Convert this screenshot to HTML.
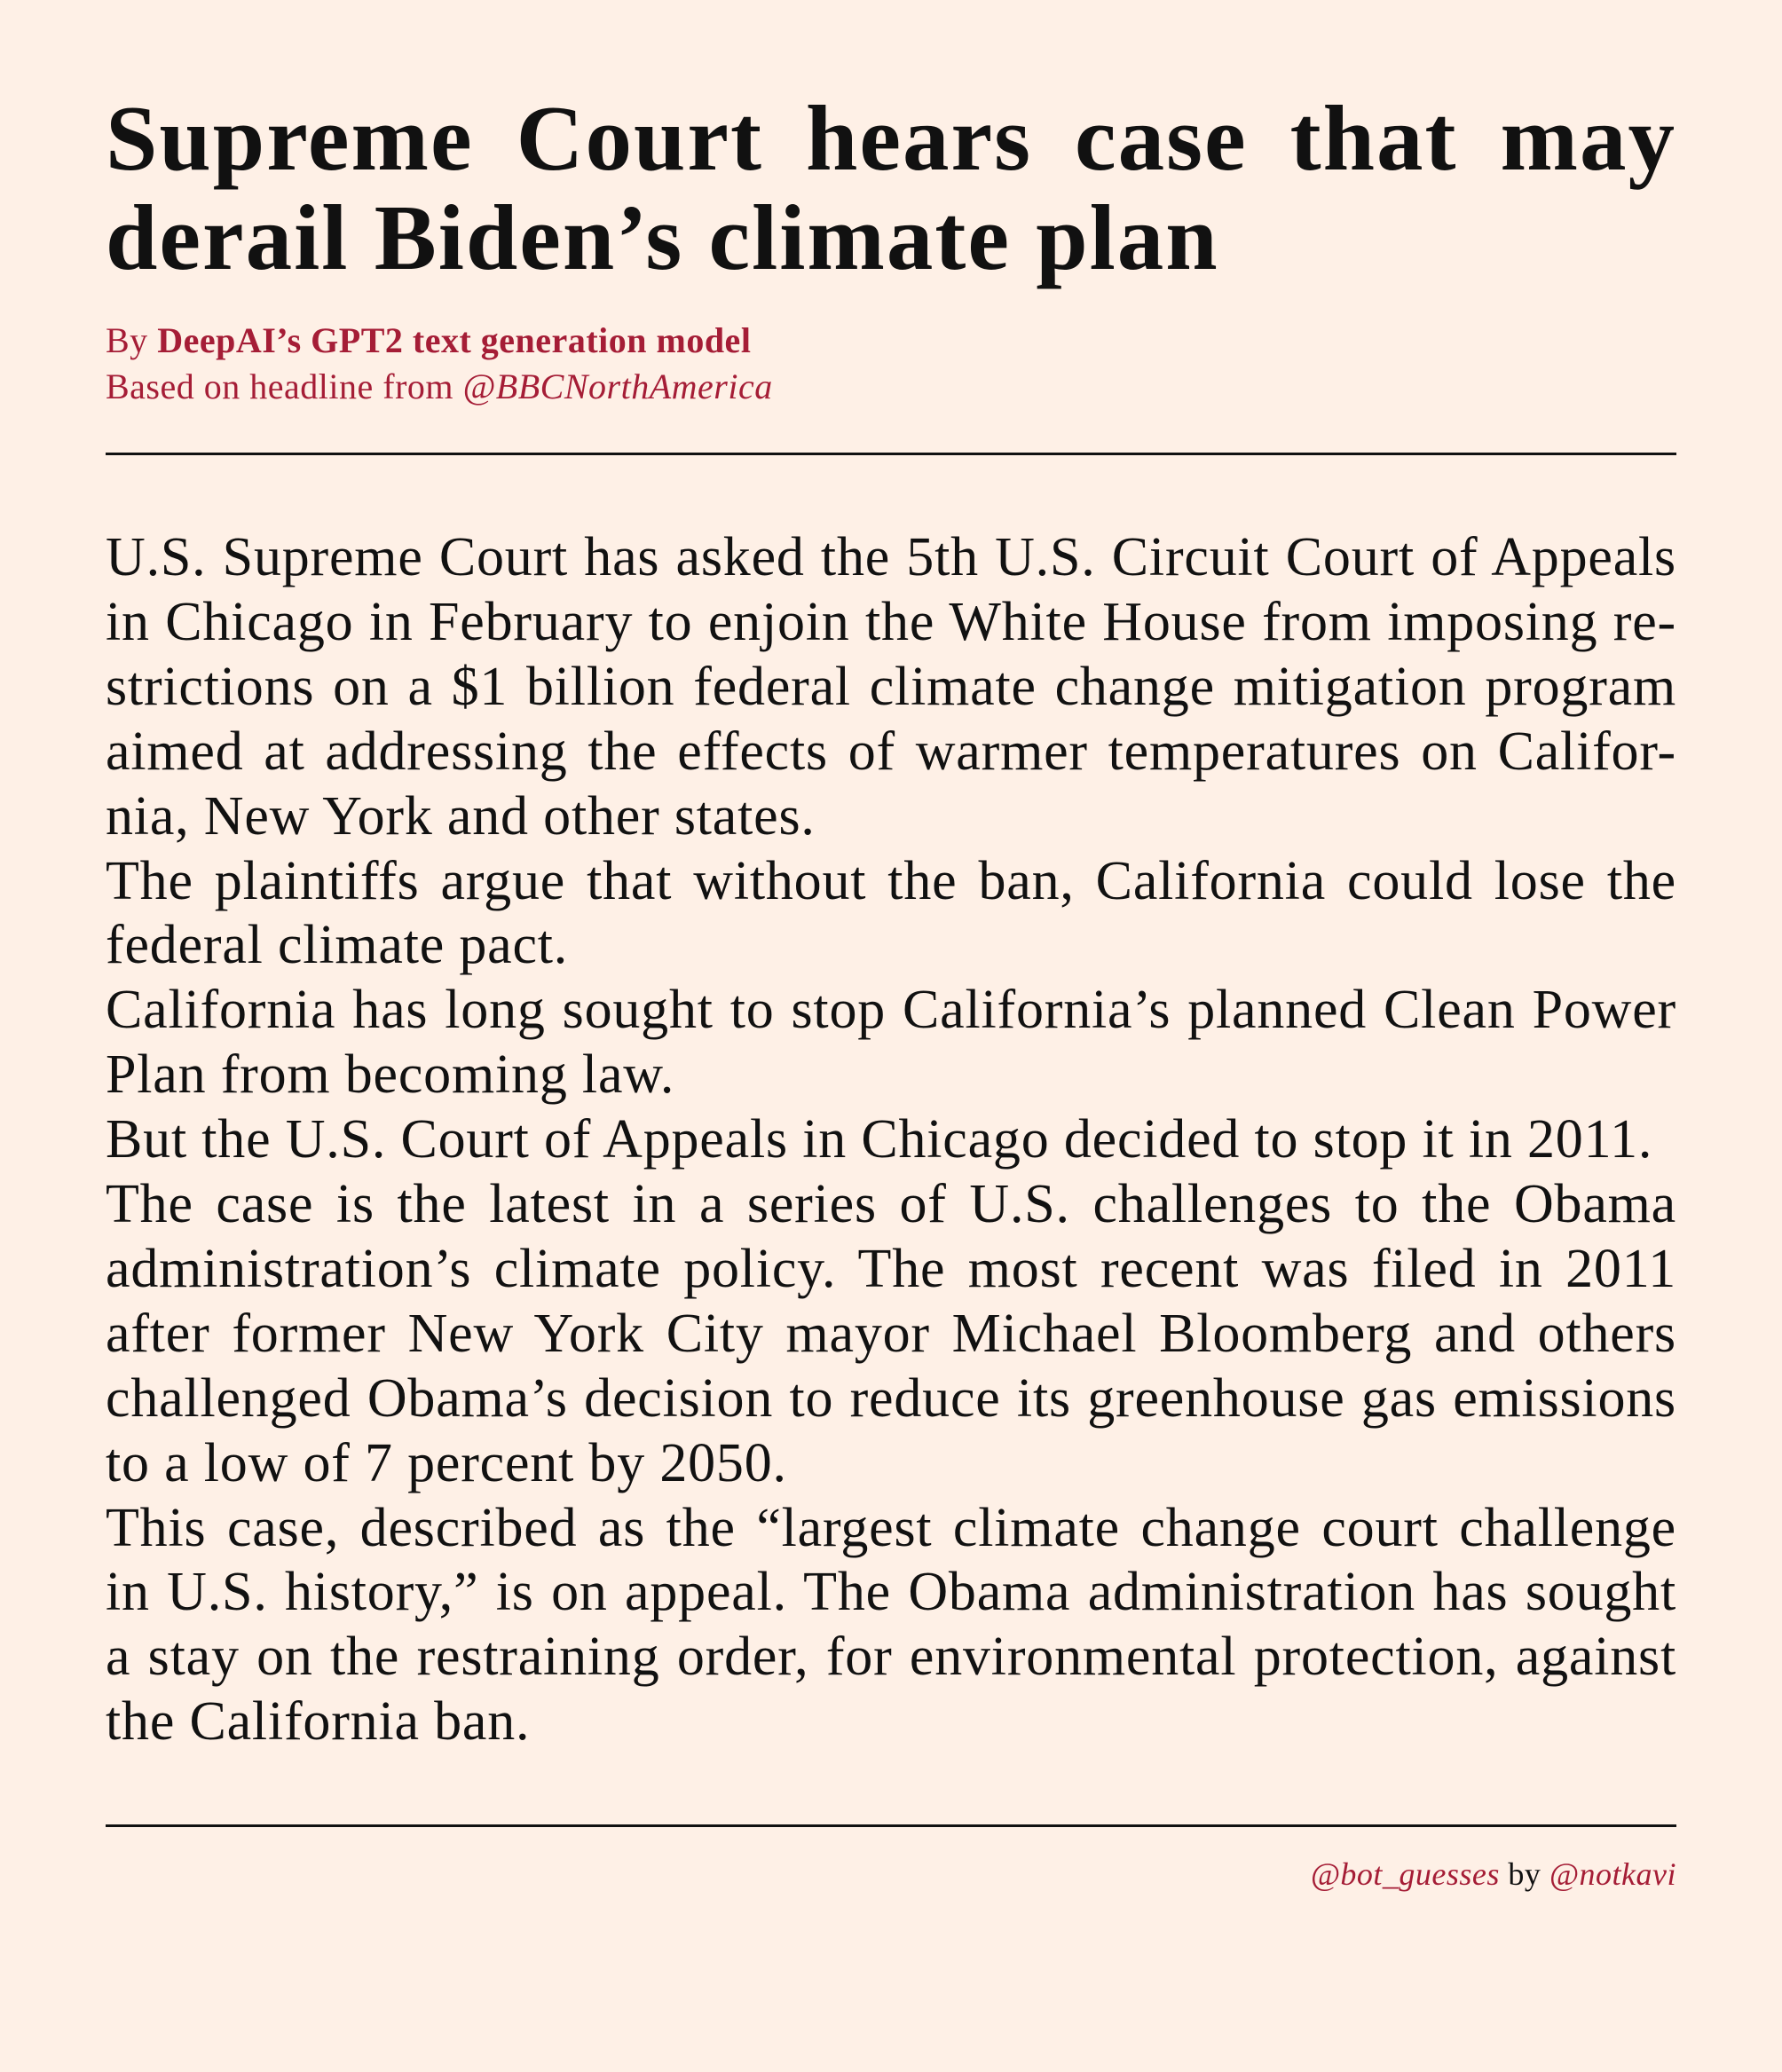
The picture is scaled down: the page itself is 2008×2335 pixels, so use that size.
<!DOCTYPE html>
<html><head><meta charset="utf-8"><style>
html,body{margin:0;padding:0;}
body{width:2008px;height:2335px;background:#fef0e6;position:relative;font-family:"Liberation Serif",serif;color:#111;overflow:hidden;}
.l{position:absolute;left:119px;width:1770px;white-space:nowrap;}
.j{text-align:justify;text-align-last:justify;}
.t{font-weight:bold;font-size:105px;letter-spacing:2px;height:112px;line-height:112px;}
.b{font-size:62px;letter-spacing:0.8px;height:75px;line-height:75px;}
.by{font-size:40px;letter-spacing:0.5px;color:#a51d36;line-height:48px;}
.rule{position:absolute;left:119px;width:1770px;height:3px;background:#111;}
</style></head><body>
<div>
<div class="l t j" style="top:100px">Supreme Court hears case that may</div>
<div class="l t" style="top:212px">derail Biden’s climate plan</div>
</div>
<div class="l by" style="top:360px">By <b>DeepAI’s GPT2 text generation model</b></div>
<div class="l by" style="top:412px">Based on headline from <i>@BBCNorthAmerica</i></div>
<div class="rule" style="top:510px"></div>
<div>
<div class="l b j" style="top:591px">U.S. Supreme Court has asked the 5th U.S. Circuit Court of Appeals</div>
<div class="l b j" style="top:664px">in Chicago in February to enjoin the White House from imposing re-</div>
<div class="l b j" style="top:737px">strictions on a $1 billion federal climate change mitigation program</div>
<div class="l b j" style="top:810px">aimed at addressing the effects of warmer temperatures on Califor-</div>
<div class="l b" style="top:883px">nia, New York and other states.</div>
<div class="l b j" style="top:956px">The plaintiffs argue that without the ban, California could lose the</div>
<div class="l b" style="top:1028px">federal climate pact.</div>
<div class="l b j" style="top:1101px">California has long sought to stop California’s planned Clean Power</div>
<div class="l b" style="top:1174px">Plan from becoming law.</div>
<div class="l b" style="top:1247px">But the U.S. Court of Appeals in Chicago decided to stop it in 2011.</div>
<div class="l b j" style="top:1320px">The case is the latest in a series of U.S. challenges to the Obama</div>
<div class="l b j" style="top:1393px">administration’s climate policy. The most recent was filed in 2011</div>
<div class="l b j" style="top:1466px">after former New York City mayor Michael Bloomberg and others</div>
<div class="l b j" style="top:1539px">challenged Obama’s decision to reduce its greenhouse gas emissions</div>
<div class="l b" style="top:1612px">to a low of 7 percent by 2050.</div>
<div class="l b j" style="top:1685px">This case, described as the “largest climate change court challenge</div>
<div class="l b j" style="top:1757px">in U.S. history,” is on appeal. The Obama administration has sought</div>
<div class="l b j" style="top:1830px">a stay on the restraining order, for environmental protection, against</div>
<div class="l b" style="top:1903px">the California ban.</div>
</div>
<div class="rule" style="top:2056px"></div>
<div class="l by" style="top:2088px;text-align:right;color:#a51d36;font-size:36px;"><i>@bot_guesses</i> <span style="color:#111">by</span> <i>@notkavi</i></div>
</body></html>
